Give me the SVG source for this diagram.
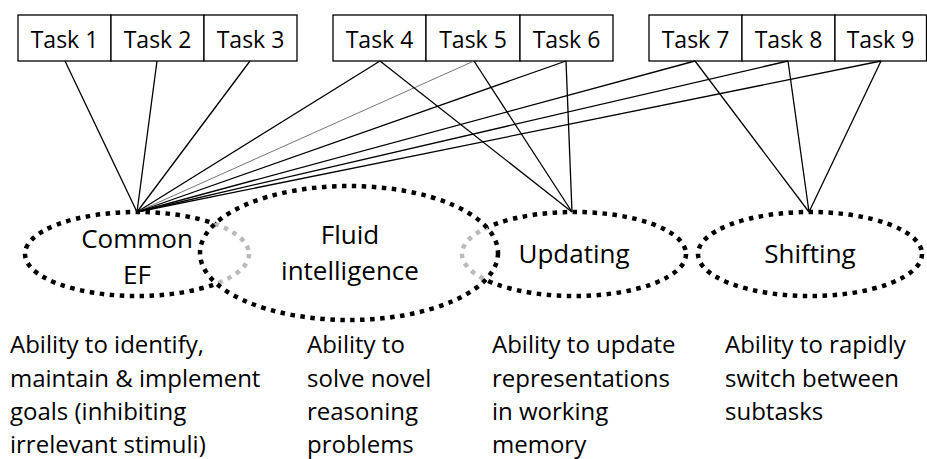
<svg xmlns="http://www.w3.org/2000/svg" width="927" height="459" viewBox="0 0 927 459">
<style>
text{font-family:"Open Sans","Liberation Sans",sans-serif;fill:#000}
.task rect{fill:#fff;stroke:#000;stroke-width:1.3}
.task text{font-size:23px;text-anchor:middle}
.ell{fill:none;stroke:#000;stroke-width:4.5;stroke-dasharray:4.5 5.5}
.ell.gray{stroke:#bbb}
.lbl{font-size:26px;text-anchor:middle}
.desc{font-size:24px}
#connectors line{stroke:#000;stroke-width:1.3}
#connectors line.thin{stroke:#666;stroke-width:0.9}
</style>
<defs>
<clipPath id="inFluid"><ellipse cx="349" cy="253" rx="149" ry="67"/></clipPath>
<mask id="outFluid" maskUnits="userSpaceOnUse" x="0" y="0" width="927" height="459">
<rect x="0" y="0" width="927" height="459" fill="#fff"/>
<ellipse cx="349" cy="253" rx="149" ry="67" fill="#000"/>
</mask>
</defs>
<rect width="927" height="459" fill="#fff"/>

<g id="task1" class="task"><rect x="18" y="15" width="93" height="46"/><text x="64.5" y="48">Task 1</text></g>
<g id="task2" class="task"><rect x="111" y="15" width="93" height="46"/><text x="157.5" y="48">Task 2</text></g>
<g id="task3" class="task"><rect x="204" y="15" width="93" height="46"/><text x="250.5" y="48">Task 3</text></g>
<g id="task4" class="task"><rect x="333" y="15" width="93" height="46"/><text x="379.5" y="48">Task 4</text></g>
<g id="task5" class="task"><rect x="426" y="15" width="94" height="46"/><text x="473" y="48">Task 5</text></g>
<g id="task6" class="task"><rect x="520" y="15" width="93" height="46"/><text x="566.5" y="48">Task 6</text></g>
<g id="task7" class="task"><rect x="649" y="15" width="93" height="46"/><text x="695.5" y="48">Task 7</text></g>
<g id="task8" class="task"><rect x="742" y="15" width="93" height="46"/><text x="788.5" y="48">Task 8</text></g>
<g id="task9" class="task"><rect x="835" y="15" width="91.5" height="46"/><text x="880.5" y="48">Task 9</text></g>

<g id="commonEF">
<ellipse class="ell" cx="137" cy="254" rx="112" ry="42" mask="url(#outFluid)"/>
<ellipse class="ell gray" cx="137" cy="254" rx="112" ry="42" clip-path="url(#inFluid)"/>
<text class="lbl" x="137" y="248">Common</text>
<text class="lbl" x="137" y="284">EF</text>
</g>
<g id="updating">
<ellipse class="ell" cx="574" cy="254" rx="112" ry="42" mask="url(#outFluid)"/>
<ellipse class="ell gray" cx="574" cy="254" rx="112" ry="42" clip-path="url(#inFluid)"/>
<text class="lbl" x="574" y="263">Updating</text>
</g>
<g id="fluid">
<ellipse class="ell" cx="349" cy="253" rx="149" ry="67"/>
<text class="lbl" x="350" y="244">Fluid</text>
<text class="lbl" x="350" y="280">intelligence</text>
</g>
<g id="shifting">
<ellipse class="ell" cx="810" cy="254" rx="112" ry="42"/>
<text class="lbl" x="810" y="263">Shifting</text>
</g>

<g id="connectors">
<line x1="65" y1="61" x2="137" y2="212"/>
<line x1="157" y1="61" x2="137" y2="212"/>
<line x1="250" y1="61" x2="137" y2="212"/>
<line x1="380" y1="61" x2="137" y2="212"/>
<line class="thin" x1="474" y1="61" x2="137" y2="212"/>
<line x1="566" y1="61" x2="137" y2="212"/>
<line x1="695" y1="61" x2="137" y2="212"/>
<line x1="788" y1="61" x2="137" y2="212"/>
<line x1="881" y1="61" x2="137" y2="212"/>
<line x1="380" y1="61" x2="572" y2="212"/>
<line x1="474" y1="61" x2="572" y2="212"/>
<line x1="566" y1="61" x2="572" y2="212"/>
<line x1="695" y1="61" x2="809" y2="212"/>
<line x1="788" y1="61" x2="809" y2="212"/>
<line x1="881" y1="61" x2="809" y2="212"/>
</g>

<g id="descriptions" class="desc">
<text x="10" y="353">Ability to identify,</text>
<text x="10" y="387">maintain &amp; implement</text>
<text x="10" y="420">goals (inhibiting</text>
<text x="10" y="453">irrelevant stimuli)</text>
<text x="307" y="353">Ability to</text>
<text x="307" y="387">solve novel</text>
<text x="307" y="420">reasoning</text>
<text x="307" y="453">problems</text>
<text x="492" y="353">Ability to update</text>
<text x="492" y="387">representations</text>
<text x="492" y="420">in working</text>
<text x="492" y="453">memory</text>
<text x="725" y="353">Ability to rapidly</text>
<text x="725" y="387">switch between</text>
<text x="725" y="420">subtasks</text>
</g>
</svg>
